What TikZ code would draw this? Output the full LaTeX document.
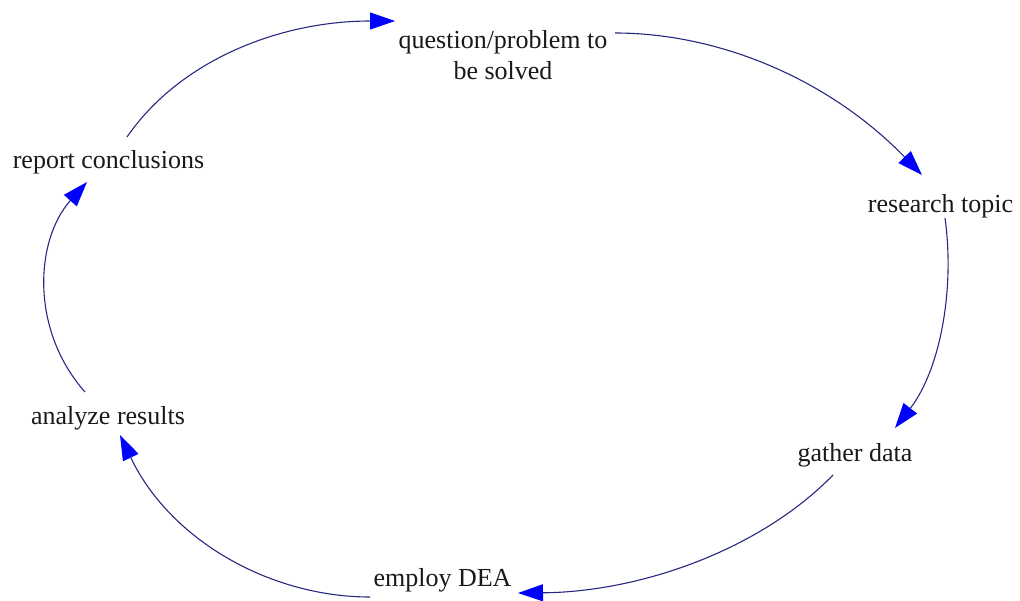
\documentclass[tikz,border=0pt]{standalone}
\usepackage{fontspec}
\setmainfont{Liberation Serif}
\usetikzlibrary{arrows.meta}
\definecolor{linenavy}{RGB}{40,40,130}
\definecolor{tipblue}{RGB}{0,0,255}
\definecolor{txt}{RGB}{25,25,25}
\tikzset{
  lbl/.style={inner sep=0pt, outer sep=0pt, text=txt, font=\fontsize{26}{31}\selectfont, align=center},
  conn/.style={draw=linenavy, line width=1.1pt,
    -{Triangle[length=25pt,width=17pt,color=tipblue]}},
}
\begin{document}
\begin{tikzpicture}[x=1pt,y=-1pt]
\useasboundingbox[fill=white] (0,0) rectangle (1020,600);
\node[lbl, anchor=center] (q) at (503,55.5) {question/problem to\\be solved};
\node[lbl, anchor=base] (rt) at (940.5,212) {research topic};
\node[lbl, anchor=base] (gd) at (855,461) {gather data};
\node[lbl, anchor=base] (ed) at (442.5,586) {employ DEA};
\node[lbl, anchor=base] (ar) at (108,424) {analyze results};
\node[lbl, anchor=base] (rc) at (108.5,168) {report conclusions};

\draw[conn] ([shift={(18.5,-31)}]rc.base) .. controls (180,60) and (280,21) .. ([shift={(-108,-34.5)}]q.center);
\draw[conn] ([shift={(112,-22.5)}]q.center) .. controls (720,33) and (830,80) .. ([shift={(-18.5,-37)}]rt.base);
\draw[conn] ([shift={(4.5,6)}]rt.base) .. controls (955,290) and (940,370) .. ([shift={(40,-33)}]gd.base);
\draw[conn] ([shift={(-22,14)}]gd.base) .. controls (760,550) and (640,592) .. ([shift={(75.5,7)}]ed.base);
\draw[conn] ([shift={(-72.5,11)}]ed.base) .. controls (270,597) and (170,540) .. ([shift={(12,11)}]ar.base);
\draw[conn] ([shift={(-23,-32)}]ar.base) .. controls (30,330) and (35,240) .. ([shift={(-21.5,14)}]rc.base);
\end{tikzpicture}
\end{document}
